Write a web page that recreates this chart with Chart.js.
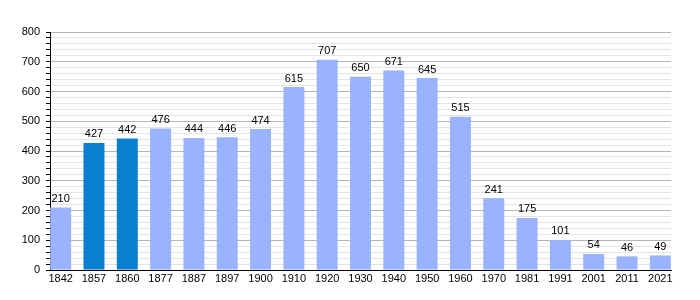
<!DOCTYPE html>
<html>
<head>
<meta charset="utf-8">
<script src="https://cdn.jsdelivr.net/npm/chart.js@4"></script>
<style>
  html, body { margin: 0; padding: 0; background: #fff; }
  #wrap { width: 700px; height: 300px; }
</style>
</head>
<body>
<div id="wrap"><canvas id="chart"></canvas></div>
<script>
// Population par année (recensements)
const years = ["1842", "1857", "1860", "1877", "1887", "1897", "1900", "1910", "1920", "1930",
  "1940", "1950", "1960", "1970", "1981", "1991", "2001", "2011", "2021"];
const population = [210, 427, 442, 476, 444, 446, 474, 615, 707, 650,
  671, 645, 515, 241, 175, 101, 54, 46, 49];
const highlighted = ["1857", "1860"];

const LIGHT = "#99b3ff";
const DARK = "#0a7ed0";

Chart.defaults.font.family = "'Liberation Sans', Arial, sans-serif";
Chart.defaults.font.size = 11;
Chart.defaults.color = "#000";

// value labels above each bar
const valueLabels = {
  id: "valueLabels",
  afterDatasetsDraw(chart) {
    const ctx = chart.ctx;
    const meta = chart.getDatasetMeta(0);
    ctx.save();
    ctx.font = "11px 'Liberation Sans', Arial, sans-serif";
    ctx.fillStyle = "#000";
    ctx.textAlign = "center";
    ctx.textBaseline = "bottom";
    meta.data.forEach((bar, i) => {
      ctx.fillText(String(population[i]), bar.x, bar.y - 3);
    });
    ctx.restore();
  },
};

new Chart(document.getElementById("chart"), {
  type: "bar",
  data: {
    datasets: [{
      data: population.map((v, i) => ({ x: i, y: v })),
      backgroundColor: years.map(y => highlighted.includes(y) ? DARK : LIGHT),
      borderWidth: 0,
      barPercentage: 0.63,
      categoryPercentage: 1,
    }],
  },
  options: {
    responsive: true,
    maintainAspectRatio: false,
    animation: false,
    layout: { padding: { top: 32, right: 29, left: 0, bottom: 0 } },
    plugins: {
      legend: { display: false },
      tooltip: { enabled: false },
    },
    scales: {
      x: {
        type: "linear",
        offset: false,
        min: -0.32,
        max: 18.32,
        afterBuildTicks: (scale) => { scale.ticks = years.map((_, i) => ({ value: i })); },
        afterFit: (scale) => { scale.height = 30; },
        ticks: {
          autoSkip: false,
          maxRotation: 0,
          padding: 2,
          callback: (v) => years[v],
        },
        grid: { display: false, drawTicks: false, offset: false },
        border: { color: "#000", width: 1 },
      },
      y: {
        min: 0,
        max: 800,
        afterFit: (scale) => { scale.width = 50; },
        ticks: {
          stepSize: 20,
          autoSkip: false,
          padding: 6,
          callback: (v) => v % 100 === 0 ? v : "",
        },
        grid: {
          color: (c) => c.tick && c.tick.value % 100 === 0 ? "#b4b4b4" : "#e4e4e4",
          tickColor: "#000",
          tickLength: 4,
        },
        border: { color: "#000", width: 1 },
      },
    },
  },
  plugins: [valueLabels],
});
</script>
</body>
</html>
